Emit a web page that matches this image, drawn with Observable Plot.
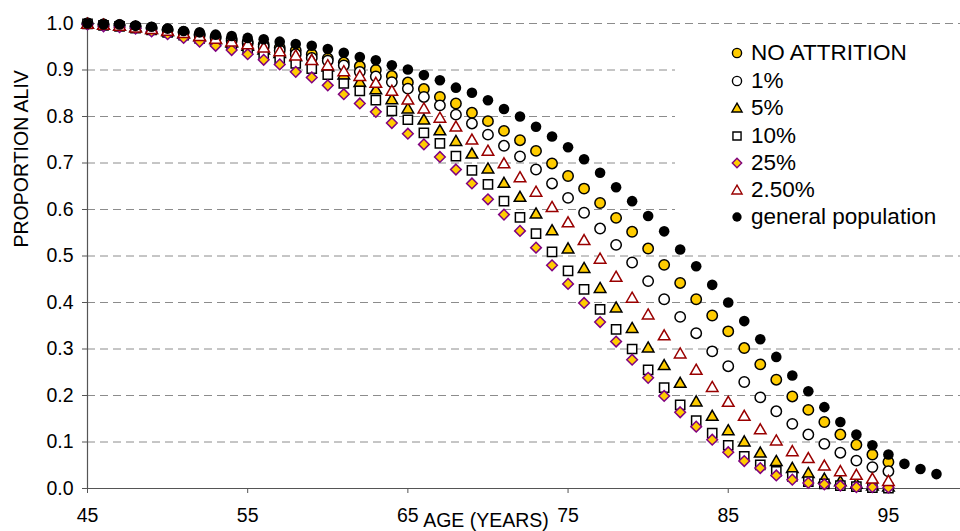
<!DOCTYPE html>
<html>
<head>
<meta charset="utf-8">
<script src="https://cdn.jsdelivr.net/npm/d3@7"></script>
<script src="https://cdn.jsdelivr.net/npm/@observablehq/plot@0.6"></script>
<style>
  html, body { margin: 0; padding: 0; background: #fff; }
  #wrap { position: relative; width: 960px; height: 531px; overflow: hidden; font-family: "Liberation Sans", Arial, sans-serif; }
  #legend { position: absolute; left: 675px; top: 31px; width: 285px; height: 213px; background: #fff; }
  .item { position: absolute; left: 0; height: 26px; display: flex; align-items: center; font-size: 22.5px; color: #000; white-space: nowrap; }
  .item svg { margin-left: 55px; margin-right: 7px; }
</style>
</head>
<body>
<div id="wrap"></div>
<script>
// ---- data ----
const agesMain = [45,46,47,48,49,50,51,52,53,54,55,56,57,58,59,60,61,62,63,64,65,66,67,68,69,70,71,72,73,74,75,76,77,78,79,80,81,82,83,84,85,86,87,88,89,90,91,92,93,94,95];
const agesGeneral = [45,46,47,48,49,50,51,52,53,54,55,56,57,58,59,60,61,62,63,64,65,66,67,68,69,70,71,72,73,74,75,76,77,78,79,80,81,82,83,84,85,86,87,88,89,90,91,92,93,94,95,96,97,98];

const noAttrition = [1.000,0.998,0.997,0.994,0.991,0.987,0.982,0.977,0.972,0.967,
  0.961,0.955,0.948,0.942,0.934,0.925,0.916,0.908,0.900,0.887,
  0.873,0.859,0.842,0.828,0.808,0.790,0.769,0.749,0.726,0.699,
  0.672,0.645,0.614,0.582,0.552,0.516,0.481,0.442,0.407,0.372,
  0.338,0.302,0.267,0.234,0.198,0.169,0.143,0.116,0.094,0.073,
  0.057];
const attrition1 = [1.000,0.998,0.996,0.993,0.990,0.986,0.981,0.975,0.969,0.963,
  0.957,0.950,0.942,0.934,0.926,0.920,0.910,0.896,0.886,0.874,
  0.860,0.842,0.824,0.804,0.785,0.761,0.737,0.714,0.686,0.656,
  0.625,0.593,0.559,0.524,0.486,0.446,0.407,0.369,0.334,0.295,
  0.263,0.229,0.196,0.166,0.139,0.116,0.096,0.077,0.060,0.046,
  0.037];
const attrition5 = [0.999,0.997,0.995,0.992,0.988,0.983,0.978,0.972,0.966,0.959,
  0.952,0.944,0.936,0.929,0.921,0.907,0.890,0.874,0.858,0.837,
  0.817,0.793,0.770,0.747,0.720,0.688,0.657,0.627,0.591,0.555,
  0.516,0.474,0.431,0.389,0.345,0.303,0.265,0.227,0.187,0.156,
  0.125,0.101,0.077,0.059,0.044,0.033,0.021,0.015,0.010,0.006,
  0.004];
const attrition10 = [0.999,0.996,0.994,0.990,0.986,0.981,0.975,0.968,0.961,0.954,
  0.946,0.933,0.925,0.914,0.903,0.890,0.871,0.855,0.835,0.812,
  0.793,0.765,0.742,0.715,0.684,0.654,0.618,0.583,0.548,0.509,
  0.468,0.428,0.385,0.342,0.300,0.255,0.217,0.180,0.146,0.119,
  0.093,0.069,0.051,0.037,0.026,0.015,0.010,0.006,0.004,0.002,
  0.001];
const attrition25 = [0.998,0.994,0.992,0.989,0.983,0.977,0.969,0.961,0.952,0.943,
  0.934,0.922,0.912,0.896,0.884,0.867,0.848,0.828,0.810,0.786,
  0.763,0.740,0.713,0.686,0.656,0.622,0.589,0.554,0.518,0.480,
  0.440,0.399,0.358,0.316,0.277,0.238,0.199,0.164,0.133,0.105,
  0.078,0.059,0.044,0.028,0.019,0.012,0.009,0.006,0.003,0.003,
  0.002];
const attrition2_5 = [0.999,0.997,0.995,0.991,0.988,0.984,0.979,0.973,0.967,0.961,
  0.955,0.948,0.940,0.931,0.921,0.910,0.897,0.887,0.872,0.855,
  0.836,0.817,0.797,0.778,0.750,0.726,0.699,0.669,0.638,0.605,
  0.572,0.534,0.494,0.455,0.410,0.374,0.329,0.290,0.255,0.218,
  0.186,0.156,0.127,0.103,0.080,0.065,0.049,0.037,0.029,0.021,
  0.016];
const generalPopulation = [1.000,0.998,0.998,0.995,0.993,0.989,0.984,0.981,0.976,0.973,
  0.969,0.966,0.961,0.956,0.952,0.945,0.937,0.928,0.921,0.910,
  0.901,0.889,0.878,0.862,0.851,0.835,0.816,0.800,0.778,0.757,
  0.734,0.708,0.679,0.648,0.618,0.586,0.553,0.514,0.478,0.438,
  0.400,0.360,0.321,0.283,0.243,0.209,0.175,0.143,0.116,0.093,
  0.073,0.053,0.042,0.031];

const xTicks = [45, 55, 65, 75, 85, 95];
const yTicks = [0, 0.1, 0.2, 0.3, 0.4, 0.5, 0.6, 0.7, 0.8, 0.9, 1.0];
const legendLabels = ["NO ATTRITION", "1%", "5%", "10%", "25%", "2.50%", "general population"];

// ---- styles per series ----
const series = [
  {label: legendLabels[0], ages: agesMain, values: noAttrition, symbol: "circle", r: 5.2, fill: "#FFCC00", stroke: "#000"},
  {label: legendLabels[1], ages: agesMain, values: attrition1, symbol: "circle", r: 5.2, fill: "#fff", stroke: "#000"},
  {label: legendLabels[2], ages: agesMain, values: attrition5, symbol: "triangle", r: 4.3, fill: "#FFCC00", stroke: "#000"},
  {label: legendLabels[3], ages: agesMain, values: attrition10, symbol: "square", r: 5.2, fill: "#fff", stroke: "#000"},
  {label: legendLabels[4], ages: agesMain, values: attrition25, symbol: "diamond2", r: 4.8, fill: "#FFCC00", stroke: "#800080"},
  {label: legendLabels[5], ages: agesMain, values: attrition2_5, symbol: "triangle", r: 4.3, fill: "#fff", stroke: "#990000"},
  {label: legendLabels[6], ages: agesGeneral, values: generalPopulation, symbol: "circle", r: 5.3, fill: "#000", stroke: "none"}
];

const dotMarks = series.map(s => Plot.dot(
  s.ages.map((a, i) => ({age: a, p: s.values[i]})),
  {x: "age", y: "p", symbol: () => s.symbol, r: s.r, fill: s.fill, stroke: s.stroke,
   strokeWidth: 1.5, dy: s.symbol === "triangle" ? 1 : 0}
));

const chart = Plot.plot({
  width: 960,
  height: 531,
  marginLeft: 87,
  marginRight: 0,
  marginTop: 23,
  marginBottom: 43,
  style: {fontFamily: "'Liberation Sans', Arial, sans-serif", fontSize: "19.5px", color: "#000", background: "#fff", overflow: "hidden"},
  x: {domain: [45, 99.5]},
  y: {domain: [0, 1]},
  symbol: {type: "identity"},
  marks: [
    Plot.gridY(yTicks.filter(d => d > 0), {stroke: "#8c8c8c", strokeOpacity: 1, strokeDasharray: "8,5", strokeWidth: 1}),
    Plot.ruleY([0], {stroke: "#555", strokeWidth: 1.2}),
    Plot.ruleX([45], {y1: 0, y2: 1, stroke: "#555", strokeWidth: 1.2}),
    Plot.axisX({ticks: xTicks, tickSize: 5, tickPadding: 15, label: null, stroke: "#555", fill: "#000"}),
    Plot.axisY({ticks: yTicks, tickSize: 5, tickPadding: 9, tickFormat: d3.format(".1f"), label: null, stroke: "#555", fill: "#000"}),
    Plot.text(["AGE (YEARS)"], {frameAnchor: "bottom", dx: -38, dy: 32.5, lineAnchor: "middle", fontSize: 19.5, fill: "#000"}),
    Plot.text(["PROPORTION ALIV"], {frameAnchor: "left", rotate: -90, dx: -66, dy: -8.5, lineAnchor: "middle", fontSize: 19.5, fill: "#000"}),
    ...dotMarks
  ]
});

const wrap = document.getElementById("wrap");
wrap.appendChild(chart);

// ---- legend overlay ----
const legend = document.createElement("div");
legend.id = "legend";
const rowCenters = [22, 50, 77, 104.5, 131.5, 158.5, 186];
const symMap = {circle: d3.symbolCircle, triangle: d3.symbolTriangle, square: d3.symbolSquare, diamond2: d3.symbolDiamond2};
series.forEach((s, i) => {
  const item = document.createElement("div");
  item.className = "item";
  item.style.top = (rowCenters[i] - 13) + "px";
  const size = Math.PI * (s.r * 0.88) ** 2;
  const path = d3.symbol(symMap[s.symbol], size)();
  const svg = `<svg width="14" height="14" viewBox="-7 -7 14 14"><path d="${path}" transform="translate(0,${s.symbol === 'triangle' ? 1 : 0})" fill="${s.fill}" stroke="${s.stroke}" stroke-width="1.4"/></svg>`;
  item.innerHTML = svg + `<span>${s.label}</span>`;
  legend.appendChild(item);
});
wrap.appendChild(legend);
</script>
</body>
</html>
